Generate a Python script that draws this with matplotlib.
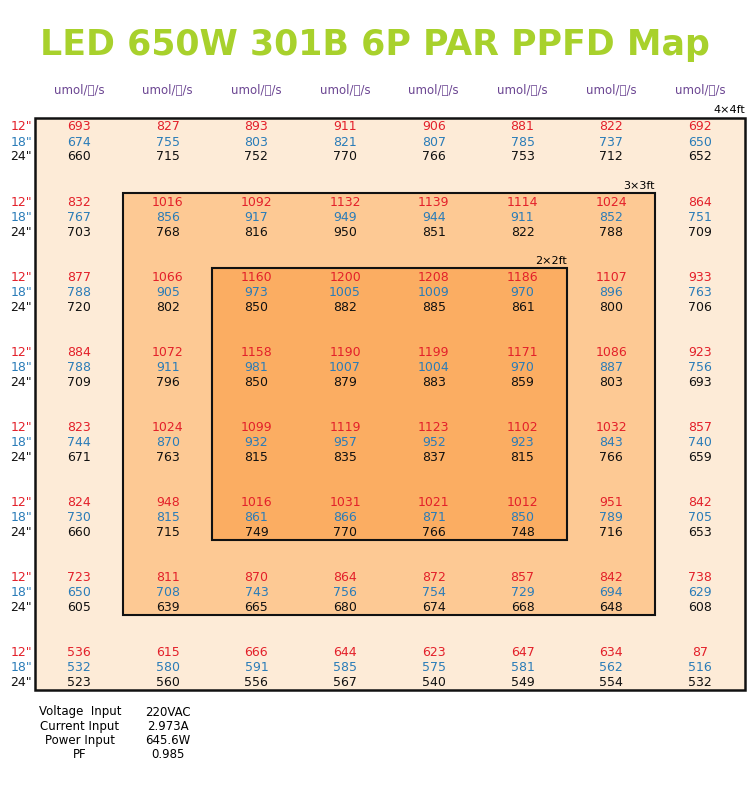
import matplotlib.pyplot as plt
from matplotlib.patches import Rectangle

h12 = [[693, 827, 893, 911, 906, 881, 822, 692],
       [832, 1016, 1092, 1132, 1139, 1114, 1024, 864],
       [877, 1066, 1160, 1200, 1208, 1186, 1107, 933],
       [884, 1072, 1158, 1190, 1199, 1171, 1086, 923],
       [823, 1024, 1099, 1119, 1123, 1102, 1032, 857],
       [824, 948, 1016, 1031, 1021, 1012, 951, 842],
       [723, 811, 870, 864, 872, 857, 842, 738],
       [536, 615, 666, 644, 623, 647, 634, 87]]
h18 = [[674, 755, 803, 821, 807, 785, 737, 650],
       [767, 856, 917, 949, 944, 911, 852, 751],
       [788, 905, 973, 1005, 1009, 970, 896, 763],
       [788, 911, 981, 1007, 1004, 970, 887, 756],
       [744, 870, 932, 957, 952, 923, 843, 740],
       [730, 815, 861, 866, 871, 850, 789, 705],
       [650, 708, 743, 756, 754, 729, 694, 629],
       [532, 580, 591, 585, 575, 581, 562, 516]]
h24 = [[660, 715, 752, 770, 766, 753, 712, 652],
       [703, 768, 816, 950, 851, 822, 788, 709],
       [720, 802, 850, 882, 885, 861, 800, 706],
       [709, 796, 850, 879, 883, 859, 803, 693],
       [671, 763, 815, 835, 837, 815, 766, 659],
       [660, 715, 749, 770, 766, 748, 716, 653],
       [605, 639, 665, 680, 674, 668, 648, 608],
       [523, 560, 556, 567, 540, 549, 554, 532]]
heights = ['12"', '18"', '24"']
info_labels = ["Voltage  Input", "Current Input", "Power Input", "PF"]
info_values = ["220VAC", "2.973A", "645.6W", "0.985"]

fig = plt.figure(figsize=(7.5, 7.87), dpi=100)
ax = fig.add_axes([0, 0, 1, 1])
ax.set_xlim(0, 750)
ax.set_ylim(787, 0)
ax.axis("off")

ax.text(375, 45, "LED 650W 301B 6P PAR PPFD Map", ha="center", va="center",
        fontsize=25, fontweight="bold", color="#a8d12c")

# zones
ax.add_patch(Rectangle((35, 118), 710, 572, fc="#fdebd7", ec="#111111", lw=1.8))
ax.add_patch(Rectangle((123, 193), 532, 422, fc="#fdc994", ec="#111111", lw=1.5))
ax.add_patch(Rectangle((212, 268), 355, 272, fc="#fbad62", ec="#111111", lw=1.5))
ax.text(745, 110, "4×4ft", ha="right", va="center", fontsize=8)
ax.text(655, 186, "3×3ft", ha="right", va="center", fontsize=8)
ax.text(567, 261, "2×2ft", ha="right", va="center", fontsize=8)

colors = ["#e3202a", "#2a7cb8", "#111111"]
xs = [79 + 88.7 * i for i in range(8)]
for x in xs:
    ax.text(x, 90, "umol/㎡/s", ha="center", va="center", fontsize=8.5,
            color="#6b4592", family="Noto Sans CJK SC")
for r in range(8):
    y0 = 127 + 75.1 * r
    for k, data in enumerate([h12, h18, h24]):
        y = y0 + 15 * k
        ax.text(32, y, heights[k], ha="right", va="center", fontsize=9, color=colors[k])
        for c in range(8):
            ax.text(xs[c], y, str(data[r][c]), ha="center", va="center",
                    fontsize=9, color=colors[k])

for i, (lab, val) in enumerate(zip(info_labels, info_values)):
    y = 712 + 14.3 * i
    ax.text(80, y, lab, ha="center", va="center", fontsize=8.5)
    ax.text(168, y, val, ha="center", va="center", fontsize=8.5)

fig.savefig("out.png", dpi=100)
